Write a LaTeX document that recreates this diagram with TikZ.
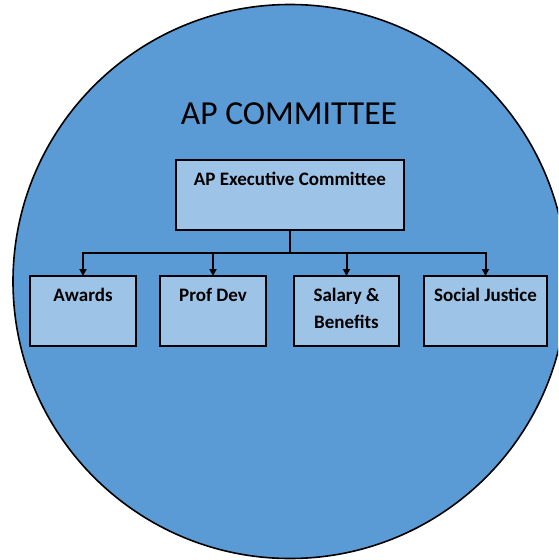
\documentclass[tikz,border=0pt]{standalone}
\usepackage{fontspec}
\setmainfont{Carlito}
\usetikzlibrary{arrows.meta}
\definecolor{circblue}{HTML}{5B9BD5}
\definecolor{boxblue}{HTML}{9DC3E6}
\tikzset{
  orgbox/.style={draw=black, line width=2pt, fill=boxblue, inner sep=0pt, outer sep=0pt},
  boxtext/.style={font=\fontsize{19}{23}\selectfont\bfseries, anchor=base, inner sep=0pt},
  conn/.style={line width=2pt, draw=black},
  arr/.style={conn, -{Triangle[length=7pt,width=7pt]}}
}
\begin{document}
\begin{tikzpicture}[x=1pt,y=-1pt]
\useasboundingbox (0,0) rectangle (558,560);
\clip (0,0) rectangle (558,560);
\fill[circblue] (290,281.5) circle[radius=277];
\draw[line width=1.6pt] (290,281.5) circle[radius=277];
\node[anchor=base, inner sep=0pt, font=\fontsize{33.6}{40}\selectfont] (title) at (289,124) {AP COMMITTEE};
% boxes
\node[orgbox, minimum width=228pt, minimum height=70pt] (exec) at (290,195) {};
\node[orgbox, minimum width=106pt, minimum height=70pt] (aw) at (83,311) {};
\node[orgbox, minimum width=106pt, minimum height=70pt] (pd) at (213,311) {};
\node[orgbox, minimum width=105pt, minimum height=70pt] (sal) at (346.5,311) {};
\node[orgbox, minimum width=123pt, minimum height=70pt] (sj) at (485.5,311) {};
% texts
\node[boxtext] (exect) at ([yshift=-25pt]exec.north) {AP Executive Committee};
\node[boxtext] (awt) at ([yshift=-25pt]aw.north) {Awards};
\node[boxtext] (pdt) at ([yshift=-25pt]pd.north) {Prof Dev};
\node[boxtext] (salt) at ([yshift=-25pt]sal.north) {Salary \&};
\node[boxtext] (salt2) at ([yshift=-52pt]sal.north) {Benefits};
\node[boxtext] (sjt) at ([yshift=-25pt]sj.north) {Social Justice};
% connectors
\coordinate (bus) at (290,253);
\draw[conn] (exec.south) -- (bus);
\draw[arr] (bus) -| (aw.north);
\draw[arr] (bus) -| (pd.north);
\draw[arr] (bus) -| (sal.north);
\draw[arr] (bus) -| (sj.north);
\end{tikzpicture}
\end{document}
